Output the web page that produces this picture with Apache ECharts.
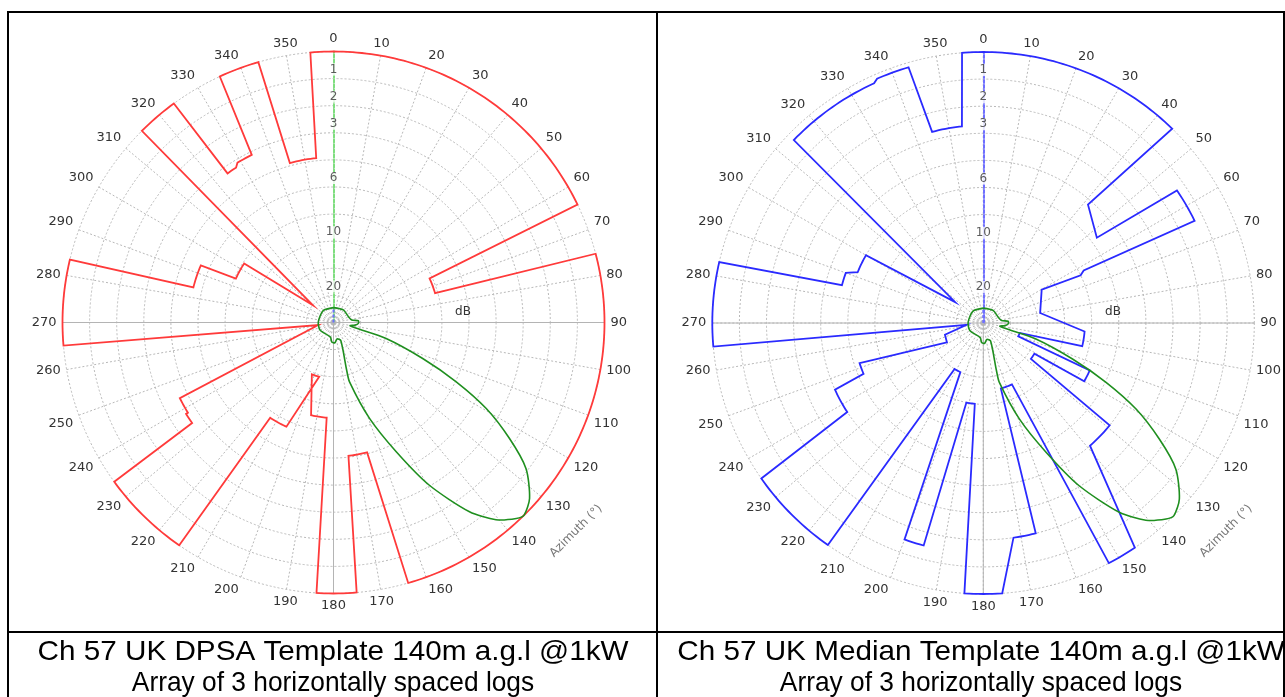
<!DOCTYPE html>
<html><head><meta charset="utf-8">
<script src="https://cdn.jsdelivr.net/npm/echarts@6/dist/echarts.min.js"></script>
<style>html,body{margin:0;padding:0;background:#fff;}#c{width:1285px;height:697px;}</style>
</head><body><div id="c"></div>
<script>
// ---------- data ----------
// radial scale is relative field (0..1); ring labels are dB values
const ringValues = [0.9, 0.8, 0.7, 0.5, 0.3, 0.1];
const ringLabels = ['1', '2', '3', '6', '10', '20'];

// template outlines: [fromAzimuth, toAzimuth, relativeField] (constant arcs, joined by straight edges;
// equal from/to = single vertex)
const dpsaRuns = [
  [0, 64.2, 1.0], [65.4, 73.9, 0.39], [75.3, 164.0, 1.0], [165.5, 173.6, 0.495],
  [175.1, 183.6, 1.0], [184.1, 193.6, 0.352], [202.7, 194.8, 0.207], [204.3, 213.6, 0.422],
  [214.7, 234.0, 1.0], [234.6, 238.2, 0.64], [238.2, 243.8, 0.632], [260.5, 260.5, 0.057],
  [265.1, 283.4, 1.0], [284.1, 293.3, 0.533], [294.2, 303.4, 0.395], [310.0, 310.0, 0.099],
  [315.0, 323.9, 1.0], [324.6, 327.8, 0.675], [329.0, 334.0, 0.688], [335.2, 343.9, 1.0],
  [344.7, 354.0, 0.61], [355.1, 360, 1.0]
];
const medianRuns = [
  [0, 44.2, 1.0], [41.5, 41.5, 0.583], [53.1, 53.1, 0.524], [55.6, 64.2, 0.866],
  [62.4, 62.4, 0.418], [63.9, 63.9, 0.40], [60.3, 60.3, 0.248], [80.0, 80.0, 0.213],
  [94.8, 103.2, 0.375], [105.2, 105.2, 0.14], [111, 111, 0.138], [114, 120, 0.43],
  [121, 127, 0.22], [129, 139, 0.6], [146, 152.4, 1.0], [155, 165, 0.25], [166, 172, 0.8],
  [176, 184, 1.0], [186, 192, 0.3], [195, 200, 0.85], [205, 212, 0.2], [215, 235, 1.0],
  [236.8, 245.8, 0.6], [247, 252, 0.48], [242, 242, 0.152], [253, 253, 0.148], [264, 264, 0.062],
  [265, 283, 1.0], [285, 290, 0.54], [292, 300, 0.5], [306.6, 306.6, 0.129],
  [314, 335.5, 0.972], [336.5, 343.7, 0.983], [345, 353.8, 0.73], [355.5, 360, 1.0]
];

// antenna pattern (array of 3 logs): azimuth and relative field
const patternAz = [0, 38, 68, 82, 86, 92, 97, 101, 104, 106.9, 112, 115.8, 119.4, 123.4, 127.2, 131.9,
  135.3, 137, 140.5, 144.3, 149.5, 154.1, 159.4, 164.9, 164.5, 158, 168, 176, 185, 192, 241, 273, 319, 360];
const patternVal = [0.055, 0.059, 0.059, 0.068, 0.092, 0.092, 0.08, 0.062, 0.085, 0.203, 0.355, 0.503, 0.647, 0.778, 0.892, 0.972,
  1.0, 0.989, 0.943, 0.86, 0.697, 0.53, 0.378, 0.227, 0.18, 0.072, 0.062, 0.075, 0.072, 0.055, 0.057, 0.056, 0.058, 0.055];

// ---------- build ----------
function runsToPolar(runs) {
  const pts = [];
  runs.forEach(([a1, a2, r]) => {
    pts.push([r, a1]);
    const dir = a2 >= a1 ? 1 : -1;
    let a = dir > 0 ? Math.floor(a1) + 1 : Math.ceil(a1) - 1;
    while (dir > 0 ? a < a2 : a > a2) { pts.push([r, a]); a += dir; }
    if (a2 !== a1) pts.push([r, a2]);
  });
  return pts;
}
const patternPts = patternAz.map((a, i) => [patternVal[i], a]);

const FONT = 'DejaVu Sans';
const centers = [[333.5, 322.5], [983.3, 323]];
const R = 271;
const GRID = { color: '#b8b8b8', type: [2, 2], width: 1 };

function angleAxis(i) {
  return {
    polarIndex: i, type: 'value', min: 0, max: 360, interval: 10, startAngle: 90, clockwise: true,
    axisLine: { show: false }, axisTick: { show: false },
    axisLabel: { margin: 6, color: '#333', fontSize: 13, fontFamily: FONT,
      formatter: v => (v >= 360 ? '' : String(v)) },
    splitLine: { show: true, lineStyle: GRID }
  };
}
function radiusAxis(i, col) {
  return {
    polarIndex: i, type: 'value', min: 0, max: 1, interval: 0.1,
    axisLine: { show: true, lineStyle: { color: col, type: [3, 2], width: 2 } },
    axisTick: { show: false }, axisLabel: { show: false },
    splitLine: { show: true, lineStyle: GRID }
  };
}
// polyline through the polar coordinate system (custom series: not clipped at the outer ring)
function outlineSeries(i, pts, color, width, smooth, z) {
  return {
    type: 'custom', coordinateSystem: 'polar', polarIndex: i, silent: true, clip: false, z,
    data: pts,
    renderItem: (params, api) => {
      if (params.dataIndex !== 0) return null;
      return { type: 'polyline', silent: true,
        shape: { points: pts.map(p => api.coord(p)), smooth: smooth },
        style: { stroke: color, lineWidth: width, fill: 'none', lineJoin: 'miter' } };
    }
  };
}
function chartSeries(i, runs, col) {
  const base = { coordinateSystem: 'polar', polarIndex: i, silent: true };
  return [
    { ...base, type: 'line', showSymbol: false, z: 1, lineStyle: { color: '#b4b4b4', width: 1 }, data: [[1, 90], [1, 270]] },
    { ...base, type: 'line', showSymbol: false, z: 1, lineStyle: { color: '#b4b4b4', width: 1 }, data: [[0, 180], [1, 180]] },
    { ...base, type: 'line', showSymbol: false, z: 2, lineStyle: { color: '#6f6fff', width: 2, type: [3, 2] }, data: [[0, 0], [0.054, 0]] },
    outlineSeries(i, runsToPolar(runs), col, 1.8, 0, 4),
    outlineSeries(i, patternPts, '#1f8f1f', 1.6, 0.25, 5),
    { ...base, type: 'scatter', symbolSize: 0, z: 6,
      data: ringValues.map((v, k) => ({ value: [v, 0], label: { formatter: ringLabels[k] } })),
      label: { show: true, position: 'top', distance: 3, color: '#333', fontSize: 12, fontFamily: FONT,
        backgroundColor: '#fff', padding: [0, 1] } }
  ];
}

const chart = echarts.init(document.getElementById('c'));
const captionFont = '28px "Liberation Sans", Arial, sans-serif';
const T = (x, y, text, font, fill, extra) => Object.assign({ type: 'text', x, y, z: 20,
  style: { text, font, fill, textAlign: 'center', textVerticalAlign: 'middle', align: 'center', verticalAlign: 'middle' } }, extra || {});
chart.setOption({
  animation: false,
  polar: centers.map(c => ({ center: c, radius: R })),
  angleAxis: [angleAxis(0), angleAxis(1)],
  radiusAxis: [radiusAxis(0, '#7ede7e'), radiusAxis(1, '#6f6fff')],
  series: [...chartSeries(0, dpsaRuns, '#ff3a3a'), ...chartSeries(1, medianRuns, '#2a2aff')],
  graphic: [
    { type: 'rect', shape: { x: 8, y: 12, width: 1276, height: 700 }, style: { fill: 'none', stroke: '#000', lineWidth: 2 }, z: 10 },
    { type: 'line', shape: { x1: 657, y1: 12, x2: 657, y2: 697 }, style: { stroke: '#000', lineWidth: 2 }, z: 10 },
    { type: 'line', shape: { x1: 8, y1: 632, x2: 1285, y2: 632 }, style: { stroke: '#000', lineWidth: 2 }, z: 10 },
    T(333, 652, 'Ch 57 UK DPSA Template 140m a.g.l @1kW', captionFont, '#000', { scaleX: 1.06 }),
    T(333, 683, 'Array of 3 horizontally spaced logs', captionFont, '#000', { scaleX: 0.94 }),
    T(981, 652, 'Ch 57 UK Median Template 140m a.g.l @1kW', captionFont, '#000', { scaleX: 1.06 }),
    T(981, 683, 'Array of 3 horizontally spaced logs', captionFont, '#000', { scaleX: 0.94 }),
    T(463, 312, 'dB', '12px "DejaVu Sans"', '#333'),
    T(1113, 312, 'dB', '12px "DejaVu Sans"', '#333'),
    T(576, 531, 'Azimuth (°)', '12px "DejaVu Sans"', '#777', { rotation: Math.PI / 4 }),
    T(1226, 531, 'Azimuth (°)', '12px "DejaVu Sans"', '#777', { rotation: Math.PI / 4 })
  ]
});
</script></body></html>
